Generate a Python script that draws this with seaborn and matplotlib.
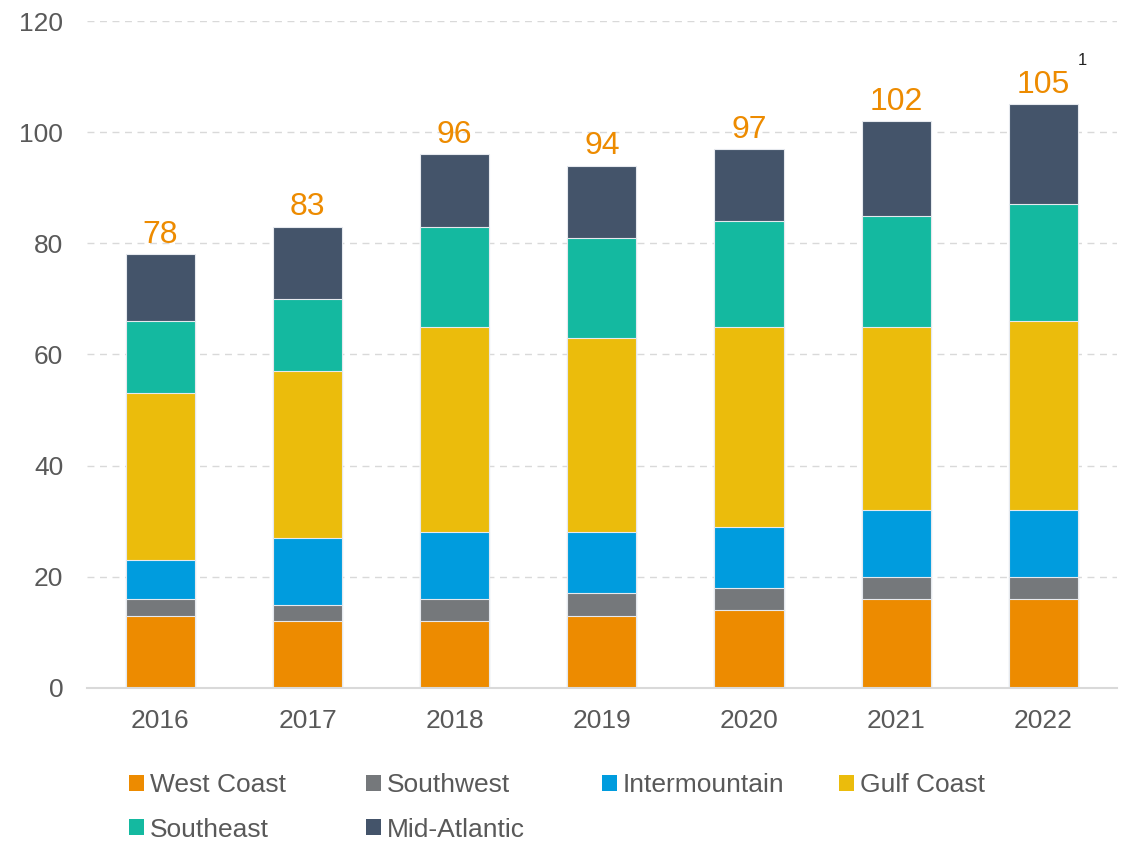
import numpy as np
import pandas as pd
import matplotlib
matplotlib.use("Agg")
import matplotlib.pyplot as plt
from matplotlib.patches import Patch
import seaborn as sns

# Data (stack segments per year, bottom to top)
years = ["2016", "2017", "2018", "2019", "2020", "2021", "2022"]
west_coast    = [13, 12, 12, 13, 14, 16, 16]
southwest     = [3, 3, 4, 4, 4, 4, 4]
intermountain = [7, 12, 12, 11, 11, 12, 12]
gulf_coast    = [30, 30, 37, 35, 36, 33, 34]
southeast     = [13, 13, 18, 18, 19, 20, 21]
mid_atlantic  = [12, 13, 13, 13, 13, 17, 18]

series_names = ["West Coast", "Southwest", "Intermountain", "Gulf Coast",
                "Southeast", "Mid-Atlantic"]
series_values = [west_coast, southwest, intermountain, gulf_coast,
                 southeast, mid_atlantic]
colors = ["#ED8B00", "#75787B", "#009CDE", "#EBBC0C", "#14B9A0", "#44546A"]

sns.set_theme(style="white")
plt.rcParams["font.family"] = ["Liberation Sans", "DejaVu Sans"]

fig = plt.figure(figsize=(11.27, 8.41), dpi=100)
ax = fig.add_axes([0.077, 0.182, 0.914, 0.793])

# Cumulative tops; draw tallest first so lower segments sit on top
cum = np.cumsum(np.array(series_values), axis=0)
for i in range(len(series_names) - 1, -1, -1):
    df = pd.DataFrame({"year": years, "value": cum[i]})
    sns.barplot(data=df, x="year", y="value", order=years, color=colors[i],
                width=0.47, saturation=1, edgecolor="#E6E9EE", linewidth=0.8,
                ax=ax, zorder=2)

totals = cum[-1]
for xi, t in enumerate(totals):
    ax.annotate(f"{t:.0f}", (xi, t), xytext=(0, 3), textcoords="offset points",
                ha="center", va="bottom", fontsize=23, color="#ED8B00")
ax.annotate("1", (6, totals[-1]), xytext=(28, 26), textcoords="offset points",
            ha="center", va="bottom", fontsize=12, color="#222222")

ax.set_xlim(-0.5, 6.5)
ax.set_ylim(0, 120)
ax.set_yticks(range(0, 121, 20))
ax.set_xlabel("")
ax.set_ylabel("")
ax.yaxis.grid(True, linestyle=(0, (5, 4)), color="#D9D9D9", linewidth=1, zorder=0)
ax.xaxis.grid(False)
ax.set_axisbelow(True)
for side in ["left", "right", "top"]:
    ax.spines[side].set_visible(False)
ax.spines["bottom"].set_color("#D9D9D9")
ax.spines["bottom"].set_linewidth(1.5)
ax.tick_params(axis="both", length=0, labelsize=19, labelcolor="#595959")
ax.tick_params(axis="x", pad=15)
ax.tick_params(axis="y", pad=17)

# Legend: four evenly spaced columns, two rows
columns = [[0, 4], [1, 5], [2], [3]]
col_x = [129, 366, 602, 839]
for idx, xpix in zip(columns, col_x):
    handles = [Patch(facecolor=colors[i], edgecolor="none", label=series_names[i])
               for i in idx]
    leg = fig.legend(handles=handles, ncol=1, loc="upper left",
                     bbox_to_anchor=(xpix / 1127, 1 - 773 / 841), frameon=False,
                     fontsize=19, handlelength=0.55, handleheight=0.55,
                     handletextpad=0.25, labelspacing=0.78, borderpad=0,
                     borderaxespad=0)
    for txt in leg.get_texts():
        txt.set_color("#595959")

fig.savefig("out.png", dpi=100)
